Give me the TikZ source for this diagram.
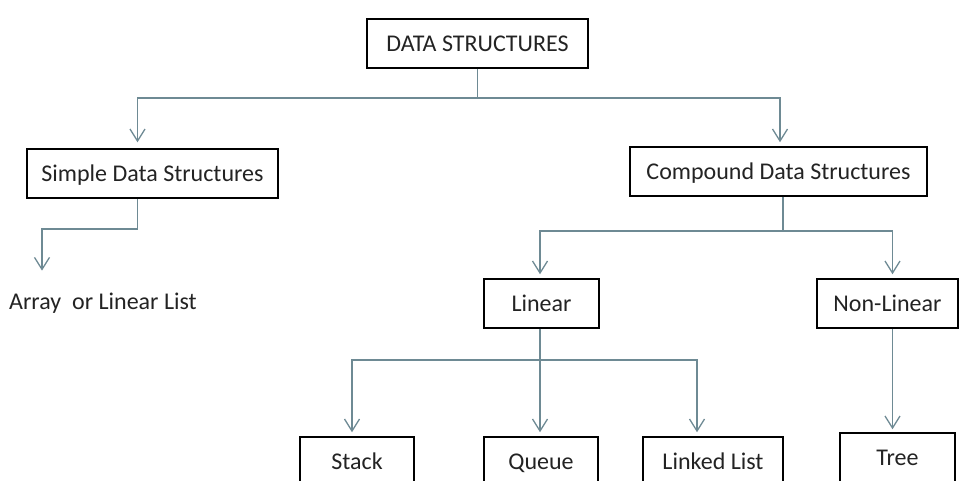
\documentclass[tikz,border=0pt]{standalone}
\usepackage{fontspec}
\setmainfont{Carlito}
\usepackage{tikz}
\usetikzlibrary{arrows.meta}
\definecolor{linkgray}{RGB}{110,138,148}
\definecolor{textgray}{RGB}{35,35,35}
\tikzset{
    box/.style={draw=black, line width=1.5pt, minimum height=49pt, inner sep=0pt,
        text height=19.6pt, text depth=4pt,
        text=textgray, font=\fontsize{24}{28}\selectfont},
    conn/.style={draw=linkgray, line width=1.5pt,
        -{Straight Barb[length=12pt, width=15pt, line width=1.3pt]}}}

\begin{document}
\begin{tikzpicture}[x=1pt, y=1pt]
        \useasboundingbox (0,0) rectangle (960,-480);

            \node[box, minimum width=221pt] (ds) at (477.5,-43.5) {DATA STRUCTURES};
            \node[box, minimum width=251pt] (simple) at (152.5,-173.5) {Simple Data Structures};
            \node[box, minimum width=297pt] (compound) at (778.5,-171.5) {Compound Data Structures};
            \node[box, minimum width=115pt] (linear) at (541.5,-303.5) {Linear};
            \node[box, minimum width=141pt] (nonlinear) at (887.5,-303.5) {Non-Linear};
            \node[box, minimum width=114pt] (stack) at (357,-461.5) {Stack};
            \node[box, minimum width=114pt] (queue) at (541,-461.5) {Queue};
            \node[box, minimum width=140pt] (linked) at (713,-461.5) {Linked List};
            \node[box, minimum width=115pt] (tree) at (897.5,-457.5) {Tree};
            \node[anchor=west, inner sep=0pt, text=textgray, font=\fontsize{24}{28}\selectfont] (array) at (9,-303) {Array\ \ or Linear List};

            % first level
            \draw[conn, shorten >=6pt] (ds.south) -- ++(0,-29) -| ([xshift=-15pt]simple.north);
            \draw[conn, shorten >=4pt] (ds.south) -- ++(0,-29) -| ([xshift=1.5pt]compound.north);

            % simple branch
            \draw[conn, shorten >=22pt] ([xshift=-15pt]simple.south) -- ++(0,-30) -| ([xshift=33pt]array.north west);

            % compound branch
            \draw[conn, shorten >=4pt] ([xshift=4.5pt]compound.south) -- ++(0,-34) -| ([xshift=-1.5pt]linear.north);
            \draw[conn, shorten >=4pt] ([xshift=4.5pt]compound.south) -- ++(0,-34) -| ([xshift=5pt]nonlinear.north);

            % linear branch
            \draw[conn, shorten >=4pt] ([xshift=-1.5pt]linear.south) -- ++(0,-31) -| ([xshift=-5pt]stack.north);
            \draw[conn, shorten >=4pt] ([xshift=-1.5pt]linear.south) -- ([xshift=-1.5pt]linear.south |- queue.north);
            \draw[conn, shorten >=4pt] ([xshift=-1.5pt]linear.south) -- ++(0,-31) -| ([xshift=-16pt]linked.north);

            % non-linear branch
            \draw[conn, shorten >=3pt] ([xshift=5pt]nonlinear.south) -- ([xshift=5pt]nonlinear.south |- tree.north);

        \end{tikzpicture}
\end{document}
